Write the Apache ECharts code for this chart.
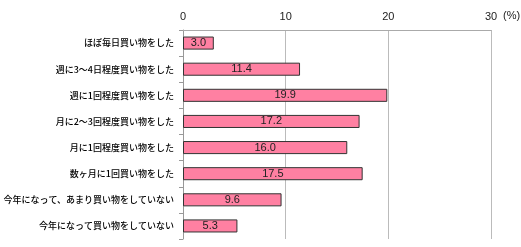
<!DOCTYPE html>
<html><head><meta charset="utf-8">
<script src="https://cdn.jsdelivr.net/npm/echarts@6/dist/echarts.min.js"></script>
<style>html,body{margin:0;padding:0;background:#fff}#c{width:521px;height:247px}</style>
</head><body><div id="c"></div>
<script>
const categories = [
  'ほぼ毎日買い物をした',
  '週に3～4日程度買い物をした',
  '週に1回程度買い物をした',
  '月に2～3回程度買い物をした',
  '月に1回程度買い物をした',
  '数ヶ月に1回買い物をした',
  '今年になって、あまり買い物をしていない',
  '今年になって買い物をしていない'
];
const values = [3.0, 11.4, 19.9, 17.2, 16.0, 17.5, 9.6, 5.3];
const xTicks = [0, 10, 20, 30];

const chart = echarts.init(document.getElementById('c'), null, {renderer: 'canvas'});
chart.setOption({
  animation: false,
  grid: {left: 183, right: 30, top: 30, bottom: 8, containLabel: false, outerBoundsMode: 'none'},
  xAxis: {
    type: 'value', position: 'top', min: xTicks[0], max: xTicks[xTicks.length - 1], interval: 10,
    name: '(%)', nameLocation: 'end', nameGap: 8,
    nameTextStyle: {fontFamily: 'Liberation Sans', fontSize: 11, color: '#222', verticalAlign: 'bottom', align: 'left', padding: [0, 0, 9, 0]},
    axisLine: {show: true, lineStyle: {color: '#aaa'}},
    axisTick: {show: false},
    axisLabel: {fontFamily: 'Liberation Sans', fontSize: 11, color: '#222', margin: 8},
    splitLine: {show: true, lineStyle: {color: '#bbb', width: 1}}
  },
  yAxis: {
    type: 'category', data: categories, inverse: true,
    axisLine: {show: true, lineStyle: {color: '#999'}},
    axisTick: {show: true, length: 4, lineStyle: {color: '#999'}},
    axisLabel: {fontFamily: 'Noto Sans CJK JP', fontSize: 9, fontWeight: 500, color: '#000', margin: 9}
  },
  series: [{
    type: 'bar', data: values, barCategoryGap: '50%',
    itemStyle: {color: '#ff80a2', borderColor: '#333', borderWidth: 1},
    label: {show: true, position: 'inside', formatter: p => p.value.toFixed(1),
      fontFamily: 'Liberation Sans', fontSize: 11, color: '#222'}
  }]
});
</script></body></html>
